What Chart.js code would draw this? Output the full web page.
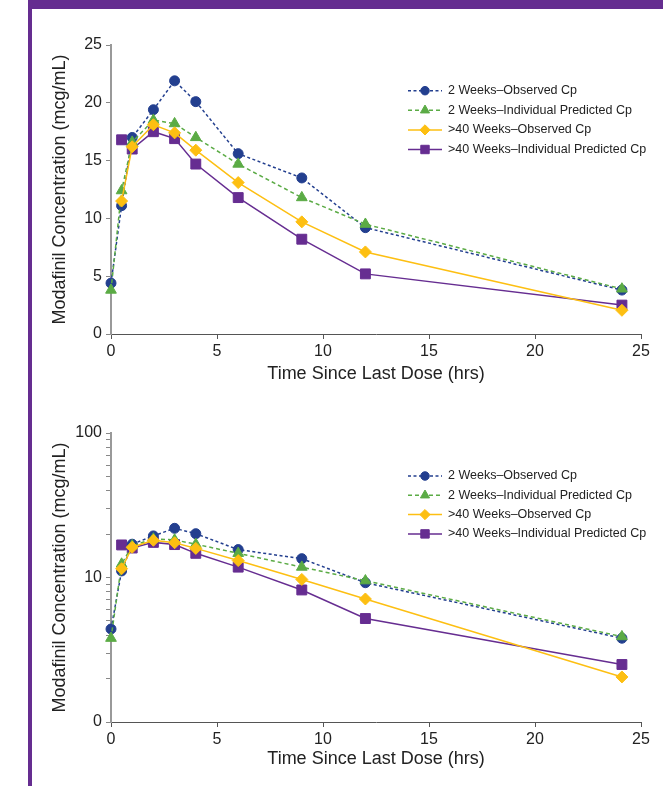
<!DOCTYPE html>
<html>
<head>
<meta charset="utf-8">
<script src="https://cdn.jsdelivr.net/npm/chart.js@4.4.1/dist/chart.umd.min.js"></script>
<style>
  html, body { margin: 0; padding: 0; background: #fff; }
  #page { position: relative; width: 663px; height: 786px; overflow: hidden; }
  .band { position: absolute; background: #652d90; }
  .plot { position: absolute; left: 0; width: 663px; }
</style>
</head>
<body>
<div id="page">
  <div class="band" style="left:28px; top:0; right:0; height:9px"></div>
  <div class="band" style="left:28px; top:0; width:4px; height:786px"></div>
  <div class="plot" style="top:0; height:390px"><canvas id="linearChart"></canvas></div>
  <div class="plot" style="top:390px; height:396px"><canvas id="logChart"></canvas></div>
</div>
<script>
// time points (hrs) and concentrations (mcg/mL)
const hours = [0, 0.5, 1, 2, 3, 4, 6, 9, 12, 24.1];
const week2Observed  = [4.4, 11.1, 17.0, 19.4, 21.9, 20.1, 15.6, 13.5, 9.2, 3.8];
const week2Predicted = [3.8, 12.4, 16.6, 18.5, 18.2, 17.0, 14.7, 11.8, 9.5, 3.9];
const week40Observed  = [null, 11.5, 16.2, 18.1, 17.4, 15.9, 13.1, 9.7, 7.1, 2.05];
const week40Predicted = [null, 16.8, 16.0, 17.5, 16.9, 14.7, 11.8, 8.2, 5.2, 2.5];

const seriesLabels = [
    '2 Weeks\u2013Observed Cp',
    '2 Weeks\u2013Individual Predicted Cp',
    '>40 Weeks\u2013Observed Cp',
    '>40 Weeks\u2013Individual Predicted Cp'
];
const logTicks = [1, 2, 3, 4, 5, 6, 7, 8, 9, 10, 20, 30, 40, 50, 60, 70, 80, 90, 100];
const logTickLabels = { 1: '0', 10: '10', 100: '100' };

const BLUE = '#233f8f';
const GREEN = '#5bab45';
const YELLOW = '#fdbf12';
const PURPLE = '#662d91';
const TEXT = '#222';

Chart.defaults.font.family = "'Liberation Sans', Arial, sans-serif";
Chart.defaults.color = TEXT;

function toPoints(values) {
    return hours.map((h, i) => ({ x: h, y: values[i] })).filter(p => p.y !== null);
}

function buildDatasets() {
    const common = { borderWidth: 1.5, pointBorderWidth: 1, tension: 0, clip: false, pointHoverRadius: 0 };
    return [
        { ...common, label: seriesLabels[0], data: toPoints(week2Observed), borderColor: BLUE, backgroundColor: BLUE,
          borderDash: [3, 2.5], pointStyle: 'circle', pointRadius: 5, order: 3 },
        { ...common, label: seriesLabels[1], data: toPoints(week2Predicted), borderColor: GREEN, backgroundColor: GREEN,
          borderDash: [4, 3], pointStyle: 'triangle', pointRadius: 6.2, order: 2 },
        { ...common, label: seriesLabels[2], data: toPoints(week40Observed), borderColor: YELLOW, backgroundColor: YELLOW,
          pointStyle: 'rectRot', pointRadius: 6, order: 1 },
        { ...common, label: seriesLabels[3], data: toPoints(week40Predicted), borderColor: PURPLE, backgroundColor: PURPLE,
          pointStyle: 'rect', pointRadius: 7, order: 4 }
    ];
}

// legend drawn inside the plot area, line sample with marker in the middle
const insideLegend = {
    id: 'insideLegend',
    afterDatasetsDraw(chart, args, opts) {
        const ctx = chart.ctx;
        const top = chart.chartArea.top + opts.offsetY;
        ctx.save();
        chart.data.datasets.forEach((ds, i) => {
            const y = top + i * opts.rowGap;
            ctx.strokeStyle = ds.borderColor;
            ctx.lineWidth = ds.borderWidth;
            ctx.setLineDash(ds.borderDash || []);
            ctx.beginPath();
            ctx.moveTo(opts.x, y);
            ctx.lineTo(opts.x + opts.lineLength, y);
            ctx.stroke();
            ctx.setLineDash([]);
            ctx.fillStyle = ds.backgroundColor;
            ctx.lineWidth = 1;
            Chart.helpers.drawPoint(ctx, { pointStyle: ds.pointStyle, radius: ds.pointRadius * 0.85, rotation: 0, borderWidth: 1 },
                opts.x + opts.lineLength / 2, y);
            ctx.fillStyle = TEXT;
            ctx.font = "12.5px 'Liberation Sans', Arial, sans-serif";
            ctx.textBaseline = 'middle';
            ctx.textAlign = 'left';
            ctx.fillText(ds.label, opts.textX, y);
        });
        ctx.restore();
    }
};

function xAxis(height) {
    return {
        type: 'linear', min: 0, max: 25,
        ticks: { stepSize: 5, font: { size: 16 }, padding: 3, color: TEXT },
        grid: { drawOnChartArea: false, drawTicks: true, tickLength: 5, color: '#555', lineWidth: 1 },
        border: { color: '#555', width: 1 },
        title: { display: true, text: 'Time Since Last Dose (hrs)', font: { size: 18 }, color: TEXT, padding: 0 },
        afterFit(scale) { scale.height = height; }
    };
}

function yTitle() {
    return { display: true, text: 'Modafinil Concentration (mcg/mL)', font: { size: 18 }, color: TEXT, padding: 0 };
}

new Chart(document.getElementById('linearChart'), {
    type: 'line',
    data: { datasets: buildDatasets() },
    plugins: [insideLegend],
    options: {
        responsive: true,
        maintainAspectRatio: false,
        animation: false,
        events: [],
        layout: { padding: { left: 49, top: 45, right: 22, bottom: 5 } },
        plugins: {
            legend: { display: false },
            tooltip: { enabled: false },
            insideLegend: { x: 408, lineLength: 34, textX: 448, offsetY: 45.7, rowGap: 19.6 }
        },
        scales: {
            x: xAxis(51),
            y: {
                type: 'linear', min: 0, max: 25,
                ticks: { stepSize: 5, font: { size: 16 }, padding: 4, color: TEXT },
                grid: { drawOnChartArea: false, drawTicks: true, tickLength: 5, color: '#888', lineWidth: 1 },
                border: { color: '#999', width: 2 },
                title: yTitle(),
                afterFit(scale) { scale.width = 62; }
            }
        }
    }
});

new Chart(document.getElementById('logChart'), {
    type: 'line',
    data: { datasets: buildDatasets() },
    plugins: [insideLegend],
    options: {
        responsive: true,
        maintainAspectRatio: false,
        animation: false,
        events: [],
        layout: { padding: { left: 49, top: 43, right: 22, bottom: 16 } },
        plugins: {
            legend: { display: false },
            tooltip: { enabled: false },
            insideLegend: { x: 408, lineLength: 34, textX: 448, offsetY: 43, rowGap: 19.3 }
        },
        scales: {
            x: xAxis(48),
            y: {
                type: 'logarithmic', min: 1, max: 100,
                afterBuildTicks(scale) { scale.ticks = logTicks.map(v => ({ value: v })); },
                ticks: {
                    autoSkip: false, font: { size: 16 }, padding: 4, color: TEXT,
                    callback: (value) => logTickLabels[value] || ''
                },
                grid: { drawOnChartArea: false, drawTicks: true, tickLength: 5, color: '#888', lineWidth: 1 },
                border: { color: '#999', width: 2 },
                title: yTitle(),
                afterFit(scale) { scale.width = 62; }
            }
        }
    }
});
</script>
</body>
</html>
